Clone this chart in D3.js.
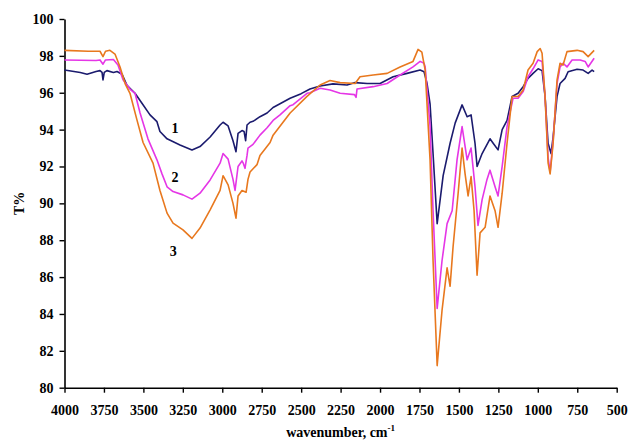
<!DOCTYPE html>
<html>
<head>
<meta charset="utf-8">
<script src="https://cdn.jsdelivr.net/npm/d3@7"></script>
<style>
  body { margin: 0; background: #fff; }
  svg text { font-family: "Liberation Serif", "Times New Roman", Times, serif; font-weight: bold; }
</style>
</head>
<body>
<svg id="chart" width="629" height="443"></svg>
<script>
// spectra: [wavenumber, T%]
const spectrum1 = [
  [4000, 97.23], [3900, 97.1], [3857, 97.0], [3800, 97.15], [3775, 97.2], [3762, 97.1], [3756, 96.7],
  [3748, 97.1], [3731, 97.2], [3690, 97.1], [3667, 97.15], [3635, 97.0], [3604, 96.4], [3553, 95.97],
  [3509, 95.43], [3458, 94.8], [3414, 94.43], [3395, 93.9], [3350, 93.5], [3268, 93.17], [3192, 92.9],
  [3141, 93.08], [3077, 93.6], [3014, 94.25], [2995, 94.4], [2963, 94.2], [2932, 93.4],
  [2913, 92.8], [2900, 93.8], [2875, 93.95], [2862, 93.9], [2852, 93.4], [2843, 94.25], [2824, 94.4],
  [2805, 94.45], [2761, 94.7], [2716, 94.9], [2678, 95.2], [2634, 95.4], [2570, 95.7], [2500, 95.95],
  [2444, 96.2], [2380, 96.37], [2298, 96.48], [2209, 96.42], [2158, 96.55], [2082, 96.5], [2000, 96.5],
  [1917, 96.87], [1829, 97.05], [1746, 97.23], [1721, 97.14], [1702, 96.5], [1683, 95.4], [1664, 92.7],
  [1638, 88.9], [1619, 90.2], [1600, 91.5], [1556, 93.26], [1524, 94.35], [1480, 95.34], [1448, 94.7],
  [1423, 94.8], [1398, 93.26], [1385, 92.0], [1353, 92.7], [1303, 93.5], [1283, 93.26], [1252, 92.9],
  [1226, 94.0], [1195, 94.5], [1163, 95.8], [1125, 95.97], [1093, 96.33], [1062, 96.78], [1030, 97.05],
  [998, 97.3], [973, 97.2], [954, 95.8], [935, 93.26], [916, 92.7], [903, 93.6], [878, 95.8], [859, 96.5],
  [827, 96.78], [808, 97.14], [751, 97.27], [713, 97.23], [681, 97.05], [656, 97.23], [643, 97.15]
];
const spectrum2 = [
  [4000, 97.78], [3800, 97.75], [3775, 97.78], [3756, 97.55], [3740, 97.78], [3690, 97.8], [3661, 97.5],
  [3629, 96.7], [3585, 96.2], [3553, 95.97], [3521, 94.9], [3471, 93.5], [3414, 92.36], [3382, 91.6],
  [3350, 90.9], [3312, 90.64], [3249, 90.46], [3192, 90.23], [3141, 90.55], [3077, 91.27], [3014, 92.18],
  [2995, 92.7], [2963, 92.4], [2932, 91.3], [2919, 90.7], [2900, 92.0], [2875, 92.3], [2868, 92.2],
  [2856, 91.9], [2843, 92.6], [2837, 93.0], [2805, 93.2], [2761, 93.7], [2716, 94.1], [2678, 94.5],
  [2634, 94.8], [2570, 95.3], [2551, 95.35], [2463, 95.97], [2444, 96.0], [2380, 96.24], [2317, 96.15],
  [2253, 95.97], [2162, 95.9], [2152, 95.75], [2146, 96.2], [2044, 96.33], [1955, 96.5], [1873, 96.96],
  [1791, 97.4], [1746, 97.7], [1721, 97.6], [1714, 97.4], [1683, 94.2], [1664, 89.6], [1638, 84.3],
  [1607, 86.9], [1575, 88.9], [1543, 89.6], [1512, 92.36], [1480, 94.16], [1448, 92.36], [1423, 93.0],
  [1398, 90.9], [1379, 88.8], [1353, 90.2], [1322, 91.3], [1303, 91.8], [1271, 90.9], [1252, 90.4],
  [1226, 92.0], [1195, 94.16], [1157, 95.7], [1125, 95.7], [1093, 96.06], [1062, 96.87], [1030, 97.3],
  [998, 97.78], [973, 97.7], [954, 95.8], [935, 92.5], [922, 91.7], [903, 93.4], [878, 96.5], [859, 97.4],
  [840, 97.6], [815, 97.4], [783, 97.78], [732, 97.78], [700, 97.7], [681, 97.4], [643, 97.87]
];
const spectrum3 = [
  [4000, 98.3], [3850, 98.25], [3775, 98.25], [3756, 97.96], [3740, 98.25], [3712, 98.3], [3680, 98.1],
  [3648, 97.4], [3616, 96.5], [3585, 95.97], [3540, 94.5], [3502, 93.3], [3439, 92.18], [3395, 90.7],
  [3350, 89.47], [3312, 88.93], [3249, 88.56], [3192, 88.1], [3141, 88.66], [3077, 89.65], [3014, 90.7],
  [2995, 91.5], [2963, 91.0], [2932, 90.0], [2913, 89.2], [2900, 90.4], [2875, 90.7], [2849, 90.6],
  [2837, 91.3], [2824, 91.7], [2780, 92.1], [2761, 92.6], [2697, 93.3], [2678, 93.7], [2570, 94.9],
  [2463, 95.8], [2380, 96.42], [2317, 96.66], [2253, 96.55], [2158, 96.5], [2127, 96.87], [2044, 96.96],
  [1955, 97.05], [1873, 97.4], [1791, 97.7], [1759, 98.35], [1735, 98.2], [1714, 97.23], [1683, 92.36],
  [1664, 86.9], [1638, 81.2], [1607, 84.2], [1575, 86.5], [1556, 85.5], [1537, 87.66], [1505, 90.55],
  [1480, 93.0], [1461, 91.6], [1442, 90.4], [1423, 91.45], [1404, 89.6], [1385, 86.1], [1366, 88.4],
  [1334, 88.7], [1303, 90.4], [1271, 89.6], [1252, 88.7], [1226, 90.55], [1195, 93.26], [1163, 95.8],
  [1125, 95.8], [1093, 96.15], [1062, 97.23], [1030, 97.6], [1004, 98.23], [985, 98.4], [973, 98.14],
  [954, 95.8], [935, 92.2], [922, 91.6], [903, 93.26], [878, 96.7], [859, 97.6], [840, 97.5], [815, 98.23],
  [751, 98.3], [713, 98.23], [681, 97.96], [643, 98.3]
];

const seriesNames = ["1", "2", "3"];
const seriesColors = ["#1b1b6e", "#e536e6", "#e8781e"];
// where the curve numbers sit: [wavenumber, T%]
const labelSpots = [[3300, 94.1], [3300, 91.4], [3310, 87.4]];

const xTicks = d3.range(4000, 499, -250);
const yTicks = d3.range(80, 101, 2);

const margin = {top: 19, left: 64.5, right: 12.3, bottom: 55.3};
const width = 629 - margin.left - margin.right;
const height = 443 - margin.top - margin.bottom;
const fontStack = "'Liberation Serif', 'Times New Roman', Times, serif";

const svg = d3.select("#chart");
const g = svg.append("g").attr("transform", `translate(${margin.left},${margin.top})`);

const x = d3.scaleLinear().domain([4000, 500]).range([0, width]);
const y = d3.scaleLinear().domain([80, 100]).range([height, 0]);

const xAxis = g.append("g")
  .attr("transform", `translate(0,${height})`)
  .call(d3.axisBottom(x).tickValues(xTicks).tickFormat(d3.format("d"))
    .tickSize(5).tickSizeOuter(0).tickPadding(12));
const yAxis = g.append("g")
  .call(d3.axisLeft(y).tickValues(yTicks).tickFormat(d3.format("d"))
    .tickSize(5).tickSizeOuter(0).tickPadding(6));

[xAxis, yAxis].forEach(a => {
  a.attr("font-family", fontStack);
  a.select(".domain").attr("stroke", "#000").attr("stroke-width", 1.6);
  a.selectAll(".tick line").attr("stroke", "#000").attr("stroke-width", 1.4);
  a.selectAll(".tick text").attr("fill", "#000").style("font-size", "14px")
    .style("font-family", fontStack).style("font-weight", "bold");
});

const line = d3.line().x(d => x(d[0])).y(d => y(d[1]));

[spectrum1, spectrum2, spectrum3].forEach((s, i) => {
  g.append("path")
    .datum(s)
    .attr("fill", "none")
    .attr("stroke", seriesColors[i])
    .attr("stroke-width", 1.6)
    .attr("stroke-linejoin", "round")
    .attr("d", line);
});

g.selectAll("text.curve-label")
  .data(labelSpots)
  .join("text")
  .attr("class", "curve-label")
  .attr("x", d => x(d[0]))
  .attr("y", d => y(d[1]))
  .attr("dy", "0.35em")
  .attr("text-anchor", "middle")
  .style("font-size", "14px")
  .text((d, i) => seriesNames[i]);

const xTitle = svg.append("text")
  .attr("x", margin.left + width / 2)
  .attr("y", 437)
  .attr("text-anchor", "middle")
  .style("font-size", "14px");
xTitle.append("tspan").text("wavenumber, cm");
xTitle.append("tspan").attr("dy", -6).style("font-size", "9px").text("-1");

svg.append("text")
  .attr("transform", `translate(24,${margin.top + height / 2}) rotate(-90)`)
  .attr("text-anchor", "middle")
  .style("font-size", "14px")
  .text("T%");
</script>
</body>
</html>
